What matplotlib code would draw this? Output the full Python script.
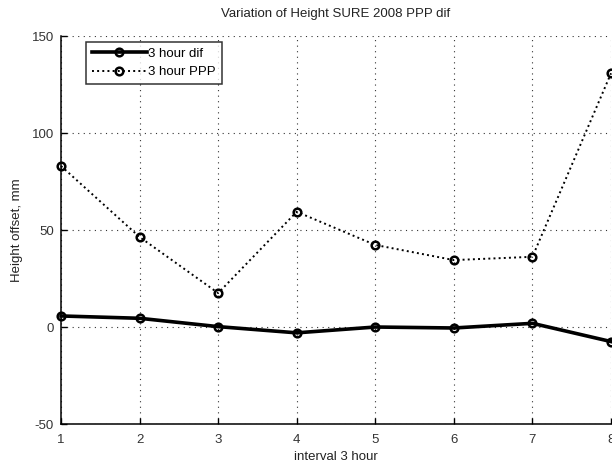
import numpy as np
import matplotlib
matplotlib.use('Agg')
import matplotlib.pyplot as plt

plt.rcParams['font.family'] = ['Liberation Sans Narrow', 'Liberation Sans', 'DejaVu Sans']
plt.rcParams['axes.unicode_minus'] = False

# values
interval = [1, 2, 3, 4, 5, 6, 7, 8]
dif_3h = [5.7, 4.5, 0.2, -3.0, 0.0, -0.5, 1.9, -7.5]
ppp_3h = [83.0, 46.4, 17.5, 59.4, 42.3, 34.5, 36.2, 130.8]
y_ticks = [-50, 0, 50, 100, 150]

fig = plt.figure(figsize=(6.12, 4.63), dpi=100)
ax = fig.add_axes([0.0997, 0.0842, 0.8987, 0.838])

ax.plot(interval, dif_3h, '-o', color='black', linewidth=2.6,
        markersize=5.5, markerfacecolor='none', markeredgewidth=1.8,
        label='3 hour dif', clip_on=False, zorder=3)
ax.plot(interval, ppp_3h, ':o', color='black', linewidth=1.4,
        markersize=5.5, markerfacecolor='none', markeredgewidth=1.8,
        label='3 hour PPP', clip_on=False, zorder=3)

ax.set_xlim(1, 8)
ax.set_ylim(-50, 150)
ax.set_xticks(interval)
ax.set_yticks(y_ticks)
ax.grid(True, linestyle=(0, (1, 4)), color='#333333', linewidth=0.8)

for s in ['top', 'right']:
    ax.spines[s].set_visible(False)
for s in ['left', 'bottom']:
    ax.spines[s].set_linewidth(1.1)
ax.tick_params(direction='in', length=4, width=1.0, labelsize=9.5,
               colors='black', labelcolor='#333333')
ax.tick_params(axis='x', pad=7)
ax.tick_params(axis='y', pad=5)

ax.set_title('Variation of Height SURE 2008 PPP dif', fontsize=9.5,
             color='#222222', pad=14)
ax.set_xlabel('interval 3 hour', fontsize=9.5, color='#222222', labelpad=4)
ax.set_ylabel('Height offset, mm', fontsize=9.5, color='#222222', labelpad=6)

leg = ax.legend(loc='upper left', bbox_to_anchor=(0.045, 0.985), fontsize=9.5,
                frameon=True, fancybox=False, edgecolor='black',
                borderaxespad=0, handlelength=4.2, handletextpad=0.1,
                borderpad=0.45, labelspacing=0.45)
leg.get_frame().set_linewidth(1.1)

fig.savefig('out.png', dpi=100)
